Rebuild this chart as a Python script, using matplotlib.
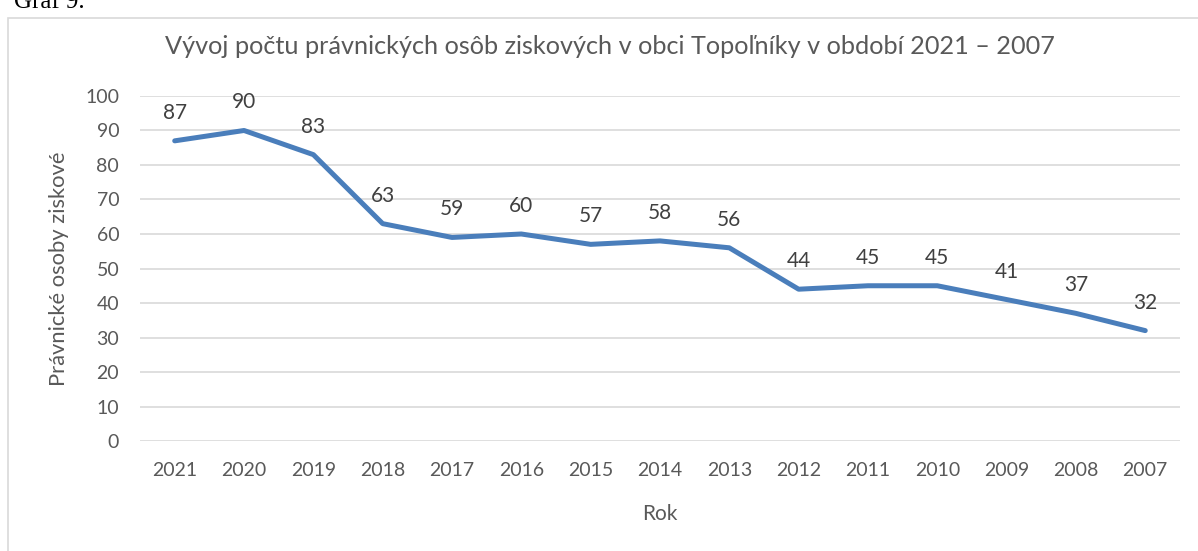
import matplotlib.pyplot as plt
from matplotlib.patches import Rectangle

years = ["2021", "2020", "2019", "2018", "2017", "2016", "2015", "2014",
         "2013", "2012", "2011", "2010", "2009", "2008", "2007"]
counts = [87, 90, 83, 63, 59, 60, 57, 58, 56, 44, 45, 45, 41, 37, 32]

plt.rcParams['font.family'] = ['Lato', 'DejaVu Sans']

fig = plt.figure(figsize=(11.98, 5.51), dpi=100)
ax = fig.add_axes([0.1169, 0.1996, 0.868, 0.6262])

x = range(len(years))
ax.plot(x, counts, color="#4A7EBB", linewidth=3.6, solid_capstyle="round")
for xi, v in zip(x, counts):
    ax.annotate(str(v), (xi, v), xytext=(0, 13), textcoords="offset points",
                ha="center", va="bottom", fontsize=15, color="#404040")

ax.set_xlim(-0.5, len(years) - 0.5)
ax.set_ylim(0, 100)
ax.set_yticks(range(0, 101, 10))
ax.set_xticks(list(x))
ax.set_xticklabels(years)
ax.grid(axis="y", color="#d9d9d9", linewidth=1.2)
ax.set_axisbelow(True)
for s in ax.spines.values():
    s.set_visible(False)
ax.tick_params(length=0, labelsize=14, labelcolor="#595959", pad=15)

ax.set_xlabel("Rok", fontsize=15, color="#595959", labelpad=18)
ax.set_ylabel("Právnické osoby ziskové", fontsize=15.8, color="#595959", labelpad=12)
fig.text(0.509, 0.915, "Vývoj počtu právnických osôb ziskových v obci Topoľníky v období 2021 – 2007",
         ha="center", va="center", fontsize=18.2, color="#595959")

# rámček grafu
fig.patches.append(Rectangle((8 / 1198, -0.1), 1.2, 1 - 18 / 551 + 0.1,
                             transform=fig.transFigure, fill=False,
                             edgecolor="#d9d9d9", linewidth=1.2))
fig.text(0.012, 1 - 8 / 551, "Graf 9.", family="Liberation Serif", fontsize=18,
         ha="left", va="baseline", color="black")

fig.savefig("out.png", dpi=100)
